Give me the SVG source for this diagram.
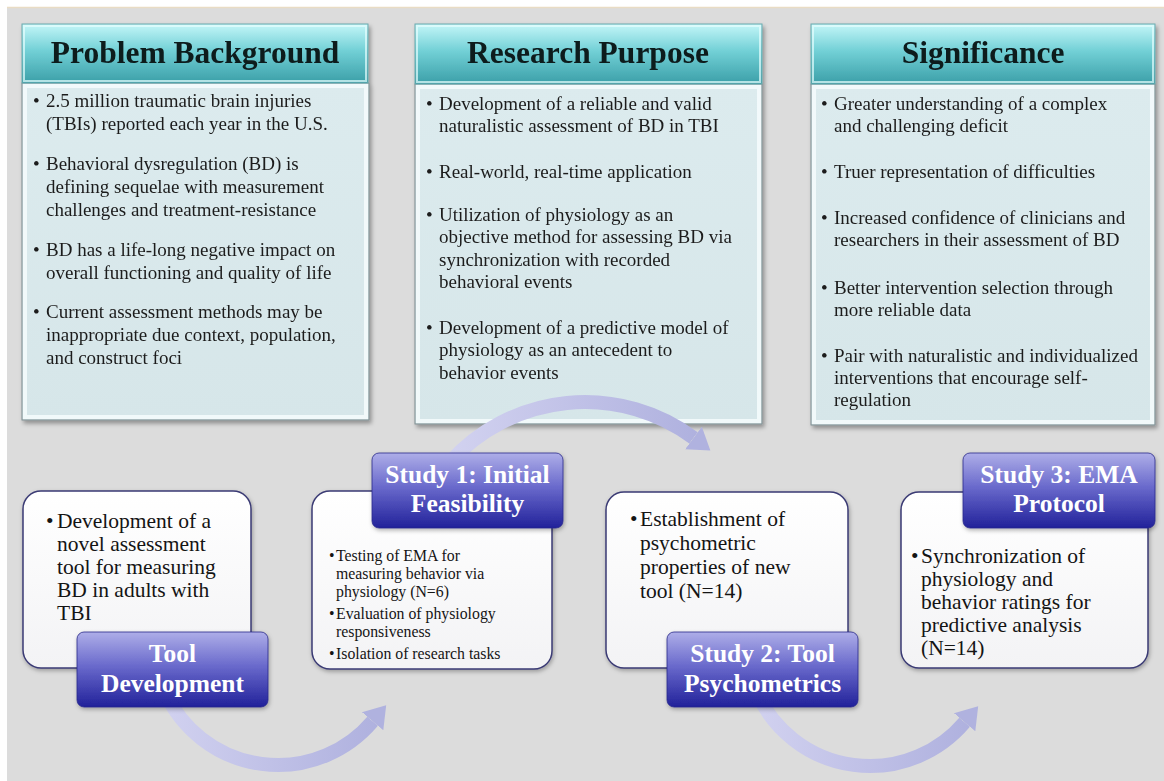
<svg xmlns="http://www.w3.org/2000/svg" width="1164" height="781" viewBox="0 0 1164 781">
  <defs>
    <linearGradient id="hdrGrad" x1="0" y1="0" x2="0" y2="1">
      <stop offset="0" stop-color="#c4f6f8"/>
      <stop offset="0.45" stop-color="#72d0d6"/>
      <stop offset="1" stop-color="#3b9fa8"/>
    </linearGradient>
    <linearGradient id="bodyGrad" x1="0" y1="0" x2="0" y2="1">
      <stop offset="0" stop-color="#dcebee"/>
      <stop offset="1" stop-color="#d6e6e9"/>
    </linearGradient>
    <linearGradient id="cardGrad" x1="0" y1="0" x2="0" y2="1">
      <stop offset="0" stop-color="#ffffff"/>
      <stop offset="1" stop-color="#f3f3f5"/>
    </linearGradient>
    <linearGradient id="lblGrad" x1="0" y1="0" x2="0" y2="1">
      <stop offset="0" stop-color="#aeaee8"/>
      <stop offset="0.45" stop-color="#6a6acc"/>
      <stop offset="1" stop-color="#21219a"/>
    </linearGradient>
    <linearGradient id="arrowGradA" gradientUnits="userSpaceOnUse" x1="160" y1="700" x2="385" y2="710">
      <stop offset="0" stop-color="#d2d2f0"/>
      <stop offset="1" stop-color="#aeb0de"/>
    </linearGradient>
    <linearGradient id="arrowGradB" gradientUnits="userSpaceOnUse" x1="450" y1="450" x2="705" y2="450">
      <stop offset="0" stop-color="#d2d2f0"/>
      <stop offset="1" stop-color="#aeb0de"/>
    </linearGradient>
    <marker id="head" markerUnits="userSpaceOnUse" orient="auto" markerWidth="22" markerHeight="30" viewBox="0 0 22 30" refX="0" refY="15">
      <path d="M0,1 L21,15 L0,29 Z" fill="#b0b2df"/>
    </marker>
    <filter id="shadow" x="-10%" y="-10%" width="130%" height="130%">
      <feDropShadow dx="2" dy="3" stdDeviation="2" flood-color="#000" flood-opacity="0.35"/>
    </filter>
    <filter id="softShadow" x="-10%" y="-10%" width="130%" height="140%">
      <feDropShadow dx="1" dy="2" stdDeviation="2" flood-color="#000" flood-opacity="0.3"/>
    </filter>
    <style>
      .hdr { fill: url(#hdrGrad); stroke: #6aa9ae; stroke-width: 1; }
      .hdr-hi { fill: none; stroke: #e6fdfd; stroke-width: 2; opacity: 0.7; }
      .body { fill: url(#bodyGrad); stroke: #7d8c8f; stroke-width: 1; }
      .bevel { fill: none; stroke: #f6fcfd; stroke-width: 4; opacity: 0.85; }
      .hdr-text { font-family: "Liberation Serif", serif; font-weight: bold; font-size: 31.5px; fill: #0f1c1e; text-anchor: middle; }
      .txt { font-family: "Liberation Serif", serif; font-size: 19px; fill: #1c1c1c; }
      .card { fill: url(#cardGrad); stroke: #3b3b74; stroke-width: 1.5; }
      .ctxt { font-family: "Liberation Serif", serif; font-size: 21.5px; fill: #141414; }
      .stxt { font-family: "Liberation Serif", serif; font-size: 15.8px; fill: #141414; }
      .lbl { fill: url(#lblGrad); stroke: #2a2a8a; stroke-width: 0.8; }
      .ltxt { font-family: "Liberation Serif", serif; font-weight: bold; font-size: 25.5px; fill: #ffffff; text-anchor: middle; }
      .arrow { fill: none; stroke-width: 14; stroke-linecap: butt; }
    </style>
  </defs>

  <!-- page -->
  <rect x="0" y="0" width="1164" height="781" fill="#ffffff"/>
  <rect x="7" y="8" width="1157" height="773" fill="#dcdcdc"/>
  <line x1="7" y1="7.5" x2="1164" y2="7.5" stroke="#e9dcc4" stroke-width="1.5"/>

  <!-- top panels -->
  <g id="problem-background" filter="url(#shadow)">
    <rect class="body" x="22" y="83" width="347" height="337"/>
    <rect class="bevel" x="25" y="86" width="341" height="331"/>
    <rect class="hdr" x="22" y="24" width="346" height="59"/>
    <rect class="hdr-hi" x="24" y="26" width="342" height="55"/>
    <text class="hdr-text" x="195" y="63">Problem Background</text>
    <g class="txt">
      <text x="33" y="107">•</text>
      <text x="46" y="107">2.5 million traumatic brain injuries</text>
      <text x="46" y="130">(TBIs) reported each year in the U.S.</text>
      <text x="33" y="170">•</text>
      <text x="46" y="170">Behavioral dysregulation (BD) is</text>
      <text x="46" y="193">defining sequelae with measurement</text>
      <text x="46" y="216">challenges and treatment-resistance</text>
      <text x="33" y="256">•</text>
      <text x="46" y="256">BD has a life-long negative impact on</text>
      <text x="46" y="279">overall functioning and quality of life</text>
      <text x="33" y="318">•</text>
      <text x="46" y="318">Current assessment methods may be</text>
      <text x="46" y="341">inappropriate due context, population,</text>
      <text x="46" y="364">and construct foci</text>
    </g>
  </g>

  <g id="research-purpose" filter="url(#shadow)">
    <rect class="body" x="415" y="84" width="347" height="340"/>
    <rect class="bevel" x="418" y="87" width="341" height="334"/>
    <rect class="hdr" x="415" y="24" width="347" height="60"/>
    <rect class="hdr-hi" x="417" y="26" width="343" height="56"/>
    <text class="hdr-text" x="588" y="63">Research Purpose</text>
    <g class="txt">
      <text x="426" y="110">•</text>
      <text x="439" y="110">Development of a reliable and valid</text>
      <text x="439" y="132">naturalistic assessment of BD in TBI</text>
      <text x="426" y="178">•</text>
      <text x="439" y="178">Real-world, real-time application</text>
      <text x="426" y="221">•</text>
      <text x="439" y="221">Utilization of physiology as an</text>
      <text x="439" y="243">objective method for assessing BD via</text>
      <text x="439" y="266">synchronization with recorded</text>
      <text x="439" y="288">behavioral events</text>
      <text x="426" y="334">•</text>
      <text x="439" y="334">Development of a predictive model of</text>
      <text x="439" y="356">physiology as an antecedent to</text>
      <text x="439" y="379">behavior events</text>
    </g>
  </g>

  <g id="significance" filter="url(#shadow)">
    <rect class="body" x="811" y="84" width="344" height="341"/>
    <rect class="bevel" x="814" y="87" width="338" height="335"/>
    <rect class="hdr" x="811" y="24" width="344" height="60"/>
    <rect class="hdr-hi" x="813" y="26" width="340" height="56"/>
    <text class="hdr-text" x="983" y="63">Significance</text>
    <g class="txt">
      <text x="821" y="110">•</text>
      <text x="834" y="110">Greater understanding of a complex</text>
      <text x="834" y="132">and challenging deficit</text>
      <text x="821" y="178">•</text>
      <text x="834" y="178">Truer representation of difficulties</text>
      <text x="821" y="224">•</text>
      <text x="834" y="224">Increased confidence of clinicians and</text>
      <text x="834" y="246">researchers in their assessment of BD</text>
      <text x="821" y="294">•</text>
      <text x="834" y="294">Better intervention selection through</text>
      <text x="834" y="316">more reliable data</text>
      <text x="821" y="362">•</text>
      <text x="834" y="362">Pair with naturalistic and individualized</text>
      <text x="834" y="384">interventions that encourage self-</text>
      <text x="834" y="406">regulation</text>
    </g>
  </g>

  <!-- curved process arrows -->
  <g id="connectors">
    <path class="arrow" stroke="url(#arrowGradA)" marker-end="url(#head)" d="M 165.6 693.4 A 124 124 0 0 0 372.6 721.2"/>
    <path class="arrow" stroke="url(#arrowGradB)" marker-end="url(#head)" d="M 449.8 462.2 A 182 182 0 0 1 693.5 437.9"/>
    <g transform="translate(592,1)">
      <path class="arrow" stroke="url(#arrowGradA)" marker-end="url(#head)" d="M 165.6 693.4 A 124 124 0 0 0 372.6 721.2"/>
    </g>
  </g>

  <!-- process stages -->
  <g id="tool-development">
    <rect class="card" x="23" y="491" width="228" height="177" rx="18" filter="url(#softShadow)"/>
    <g class="ctxt">
      <text x="46" y="528">•</text>
      <text x="57" y="528">Development of a</text>
      <text x="57" y="551">novel assessment</text>
      <text x="57" y="574">tool for measuring</text>
      <text x="57" y="597">BD in adults with</text>
      <text x="57" y="620">TBI</text>
    </g>
    <rect class="lbl" x="77" y="632" width="191" height="75" rx="7" filter="url(#softShadow)"/>
    <text class="ltxt" x="172.5" y="662">Tool</text>
    <text class="ltxt" x="172.5" y="692">Development</text>
  </g>

  <g id="study-1">
    <rect class="card" x="312" y="491" width="240" height="178" rx="18" filter="url(#softShadow)"/>
    <g class="stxt">
      <text x="329" y="561">•</text>
      <text x="336" y="561">Testing of EMA for</text>
      <text x="336" y="579">measuring behavior via</text>
      <text x="336" y="597">physiology (N=6)</text>
      <text x="329" y="619">•</text>
      <text x="336" y="619">Evaluation of physiology</text>
      <text x="336" y="637">responsiveness</text>
      <text x="329" y="659">•</text>
      <text x="336" y="659">Isolation of research tasks</text>
    </g>
    <rect class="lbl" x="372" y="453" width="191" height="75" rx="7" filter="url(#softShadow)"/>
    <text class="ltxt" x="467.5" y="483">Study 1: Initial</text>
    <text class="ltxt" x="467.5" y="512">Feasibility</text>
  </g>

  <g id="study-2">
    <rect class="card" x="606" y="492" width="242" height="176" rx="18" filter="url(#softShadow)"/>
    <g class="ctxt">
      <text x="630" y="526">•</text>
      <text x="640" y="526">Establishment of</text>
      <text x="640" y="550">psychometric</text>
      <text x="640" y="574">properties of new</text>
      <text x="640" y="598">tool (N=14)</text>
    </g>
    <rect class="lbl" x="667" y="632" width="191" height="75" rx="7" filter="url(#softShadow)"/>
    <text class="ltxt" x="762.5" y="662">Study 2: Tool</text>
    <text class="ltxt" x="762.5" y="692">Psychometrics</text>
  </g>

  <g id="study-3">
    <rect class="card" x="901" y="492" width="247" height="176" rx="18" filter="url(#softShadow)"/>
    <g class="ctxt">
      <text x="911" y="563">•</text>
      <text x="921" y="563">Synchronization of</text>
      <text x="921" y="586">physiology and</text>
      <text x="921" y="609">behavior ratings for</text>
      <text x="921" y="632">predictive analysis</text>
      <text x="921" y="655">(N=14)</text>
    </g>
    <rect class="lbl" x="963" y="453" width="192" height="75" rx="7" filter="url(#softShadow)"/>
    <text class="ltxt" x="1059" y="483">Study 3: EMA</text>
    <text class="ltxt" x="1059" y="512">Protocol</text>
  </g>
</svg>
